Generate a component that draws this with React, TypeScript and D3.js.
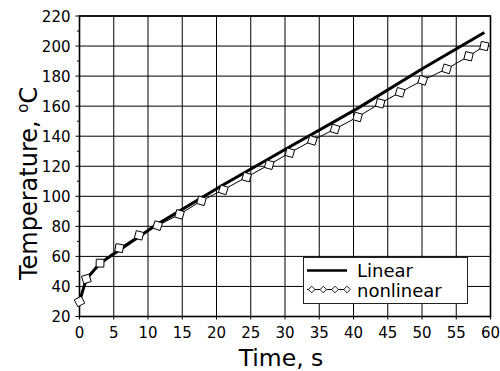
import React, { useRef, useEffect } from 'react';
import * as d3 from 'd3';

// time (s) and temperature (°C)
const linearTime = [0, 1, 3, 11.4, 21, 30.7, 40.6, 50.1, 59.1];
const linearTemp = [30, 45, 55.5, 81.5, 107.7, 133, 158.5, 185, 209];

const nonlinearTime = [0, 1, 3, 5.8, 8.7, 11.4, 14.6, 17.8, 21, 24.4, 27.7, 30.7, 34, 37.3, 40.6, 43.9, 46.8, 50.1, 53.6, 56.8, 59.1];
const nonlinearTemp = [30, 45, 55.5, 65.5, 74, 80.5, 88, 97, 104.3, 112.8, 121, 129, 137.2, 144.8, 152.8, 161.9, 169.2, 177.2, 184.8, 193.2, 200];

const xTicks = [0, 5, 10, 15, 20, 25, 30, 35, 40, 45, 50, 55, 60];
const yTicks = [20, 40, 60, 80, 100, 120, 140, 160, 180, 200, 220];
const yMinorTicks = [30, 50, 70, 90, 110, 130, 150, 170, 190, 210];

const seriesNames = ['Linear', 'nonlinear'];

const W = 500;
const H = 371;
const FONT = 'DejaVu Sans, sans-serif';

const diamond = (cx: number, cy: number, r: number, angle: number) => {
  const pts = [[0, -r], [r, 0], [0, r], [-r, 0]].map(([px, py]) => {
    const c = Math.cos(angle), s = Math.sin(angle);
    return [cx + px * c - py * s, cy + px * s + py * c];
  });
  return 'M' + pts.map(p => p.join(',')).join('L') + 'Z';
};

const App: React.FC = () => {
  const svgRef = useRef<SVGSVGElement | null>(null);

  useEffect(() => {
    const svg = d3.select(svgRef.current);
    svg.selectAll('*').remove();

    const left = 79.5, right = 490.5, top = 16, bottom = 316.5;

    const x = d3.scaleLinear().domain([0, 60]).range([left, right]);
    const y = d3.scaleLinear().domain([20, 220]).range([bottom, top]);

    svg.append('rect').attr('width', W).attr('height', H).attr('fill', '#fff');

    // grid
    const grid = svg.append('g').attr('stroke', '#000').attr('stroke-width', 1);
    grid.selectAll('.vx').data(xTicks.slice(1, -1)).enter().append('line')
      .attr('x1', d => x(d)).attr('x2', d => x(d))
      .attr('y1', top).attr('y2', bottom + 3);
    grid.append('line').attr('x1', x(0)).attr('x2', x(0)).attr('y1', bottom).attr('y2', bottom + 3);
    grid.append('line').attr('x1', x(60)).attr('x2', x(60)).attr('y1', bottom).attr('y2', bottom + 3);
    grid.selectAll('.hy').data(yTicks).enter().append('line')
      .attr('x1', left - 4).attr('x2', right)
      .attr('y1', d => y(d)).attr('y2', d => y(d));
    grid.selectAll('.my').data(yMinorTicks).enter().append('line')
      .attr('x1', left - 2.5).attr('x2', left)
      .attr('y1', d => y(d)).attr('y2', d => y(d));

    // frame
    svg.append('rect')
      .attr('x', left).attr('y', top)
      .attr('width', right - left).attr('height', bottom - top)
      .attr('fill', 'none').attr('stroke', '#000').attr('stroke-width', 1.6);

    // tick labels
    svg.append('g').selectAll('text').data(xTicks).enter().append('text')
      .attr('x', d => x(d)).attr('y', 338.3)
      .attr('text-anchor', 'middle')
      .attr('font-family', FONT).attr('font-size', 15)
      .text(d => d);
    svg.append('g').selectAll('text').data(yTicks).enter().append('text')
      .attr('x', 70.5).attr('y', d => y(d) + 5.5)
      .attr('text-anchor', 'end')
      .attr('font-family', FONT).attr('font-size', 15)
      .text(d => d);

    // axis titles
    svg.append('text')
      .attr('x', 281).attr('y', 365.5)
      .attr('text-anchor', 'middle')
      .attr('font-family', FONT).attr('font-size', 23.5)
      .text('Time, s');
    // y title starts at the bottom of the "T" and runs upward
    const yl = svg.append('text')
      .attr('transform', 'translate(36.5,280) rotate(-90)')
      .attr('font-family', FONT).attr('font-size', 24);
    yl.append('tspan').text('Temperature, ');
    yl.append('tspan').attr('font-size', 15).attr('dy', -9).text('o');
    yl.append('tspan').attr('dy', 9).text('C');

    const plot = svg.append('g');

    // nonlinear
    const nl = nonlinearTime.map((t, i) => [x(t), y(nonlinearTemp[i])] as [number, number]);
    plot.append('path')
      .attr('d', d3.line()(nl) as string)
      .attr('fill', 'none').attr('stroke', '#000').attr('stroke-width', 1);

    // linear
    const lin = linearTime.map((t, i) => [x(t), y(linearTemp[i])] as [number, number]);
    plot.append('path')
      .attr('d', d3.line()(lin) as string)
      .attr('fill', 'none').attr('stroke', '#000').attr('stroke-width', 3)
      .attr('stroke-linejoin', 'round');

    // markers oriented along the path
    nl.forEach((p, i) => {
      let ux = 0, uy = 0;
      if (i > 0) {
        const dx = p[0] - nl[i - 1][0], dy = p[1] - nl[i - 1][1];
        const l = Math.hypot(dx, dy);
        ux += dx / l; uy += dy / l;
      }
      if (i < nl.length - 1) {
        const dx = nl[i + 1][0] - p[0], dy = nl[i + 1][1] - p[1];
        const l = Math.hypot(dx, dy);
        ux += dx / l; uy += dy / l;
      }
      const a = Math.atan2(uy, ux);
      plot.append('path')
        .attr('d', diamond(p[0], p[1], 5.5, a))
        .attr('fill', '#fff').attr('stroke', '#000').attr('stroke-width', 1);
    });

    // legend
    const lg = svg.append('g');
    lg.append('rect')
      .attr('x', 303.5).attr('y', 257.5).attr('width', 164).attr('height', 46)
      .attr('fill', '#fff').attr('stroke', '#222').attr('stroke-width', 1);
    lg.append('line')
      .attr('x1', 307).attr('x2', 347).attr('y1', 270.5).attr('y2', 270.5)
      .attr('stroke', '#000').attr('stroke-width', 2.5);
    lg.append('line')
      .attr('x1', 307).attr('x2', 350).attr('y1', 289.5).attr('y2', 289.5)
      .attr('stroke', '#000').attr('stroke-width', 1);
    [311.7, 323.3, 335, 347].forEach(cx => {
      lg.append('path')
        .attr('d', diamond(cx, 289.5, 3.3, 0))
        .attr('fill', '#fff').attr('stroke', '#000').attr('stroke-width', 0.9);
    });
    lg.selectAll('.lt').data(seriesNames).enter().append('text')
      .attr('x', 357).attr('y', (d, i) => 277.3 + i * 20)
      .attr('font-family', FONT).attr('font-size', 18)
      .text(d => d);
  }, []);

  return (
    <svg ref={svgRef} width={W} height={H}
      style={{ position: 'absolute', left: 0, top: 0, display: 'block' }} />
  );
};

export default App;
